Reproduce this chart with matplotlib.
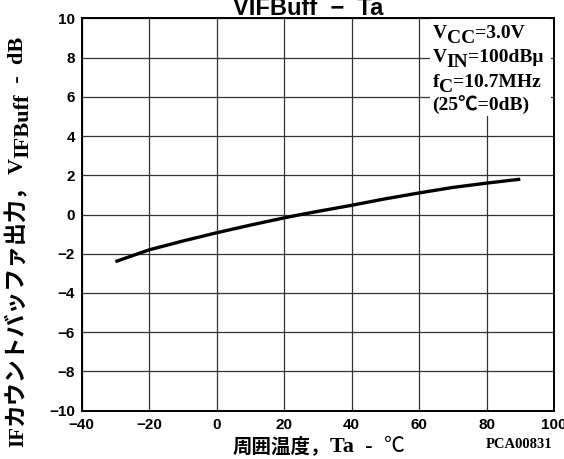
import matplotlib
matplotlib.use('Agg')
import matplotlib.pyplot as plt
from matplotlib.patches import Rectangle

# data
ta = [-30, -20, -10, 0, 10, 20, 25, 30, 40, 50, 60, 70, 80, 90]
vout = [-2.4, -1.8, -1.35, -0.93, -0.54, -0.17, 0.0, 0.16, 0.47, 0.8, 1.1, 1.38, 1.6, 1.8]

xticks = [-40, -20, 0, 20, 40, 60, 80, 100]
yticks = [-10, -8, -6, -4, -2, 0, 2, 4, 6, 8, 10]

# condition box: each line is a list of (text, is_subscript)
cond_lines = [
    [('V', 0), ('CC', 1), ('=3.0V', 0)],
    [('V', 0), ('IN', 1), ('=100dBμ', 0)],
    [('f', 0), ('C', 1), ('=10.7MHz', 0)],
    [('(25℃=0dB)', 0)],
]
cond_y = [9.0, 7.75, 6.5, 5.3]

serif = ['Liberation Serif', 'Noto Sans CJK JP']
cjk = ['Noto Sans CJK JP', 'Liberation Serif']
sans = ['Liberation Sans', 'DejaVu Sans']

fig = plt.figure(figsize=(5.64, 4.59), dpi=100)
ax = fig.add_axes([0.1449, 0.1052, 0.9823 - 0.1449, 0.9601 - 0.1052])

ax.plot(ta, vout, color='black', linewidth=2.4, solid_capstyle='butt', zorder=3)

ax.set_xlim(-40, 100)
ax.set_ylim(-10, 10)
ax.set_xticks(xticks)
ax.set_yticks(yticks)
ax.grid(True, color='#333333', linewidth=0.9)
ax.tick_params(length=0, pad=5)
for lab in ax.get_xticklabels() + ax.get_yticklabels():
    lab.set_fontfamily(sans)
    lab.set_fontweight('bold')
    lab.set_fontsize(11)
for s in ax.spines.values():
    s.set_linewidth(1.4)
    s.set_zorder(5)

# white box behind the conditions
ax.add_patch(Rectangle((63.2, 5.0), 35.9, 5.0, facecolor='white', edgecolor='none', zorder=2.5))
for parts, y in zip(cond_lines, cond_y):
    prev = None
    for txt, sub in parts:
        off = -3.6 if sub else 0
        if prev is None:
            prev = ax.annotate(txt, xy=(64.0, y), xycoords='data', xytext=(0, off),
                               textcoords='offset points', fontsize=14, fontfamily=serif,
                               fontweight='bold', va='baseline', ha='left', zorder=4)
        else:
            prev = ax.annotate(txt, xy=(1, y), xycoords=(prev, 'data'), xytext=(0, off),
                               textcoords='offset points', fontsize=14, fontfamily=serif,
                               fontweight='bold', va='baseline', ha='left', zorder=4)

# title (cut at top edge like the source)
fig.text(0.547, 1 - 15 / 459, 'VIFBuff  −  Ta', fontsize=17, fontfamily=sans,
         fontweight='bold', ha='center', va='baseline')

# x label: CJK part, then latin part, then degree sign
xl1 = fig.text(233 / 564, 1 - 452 / 459, '周囲温度，', fontsize=14, fontfamily=cjk,
               fontweight='bold', ha='left', va='baseline')
xl2 = ax.annotate('Ta  -  ', xy=(1, 1 - 452 / 459), xycoords=(xl1, 'figure fraction'),
                  fontsize=16, fontfamily=serif, fontweight='bold', ha='left', va='baseline',
                  annotation_clip=False)
ax.annotate('℃', xy=(1, 1 - 452 / 459), xycoords=(xl2, 'figure fraction'),
            fontsize=15, fontfamily=cjk, ha='left', va='baseline', annotation_clip=False)

fig.text(0.921, 1 - 448 / 459, 'PCA00831', fontsize=10.5, fontfamily=serif,
         fontweight='bold', ha='center', va='baseline')

# y label, rotated, built from pieces so the subscript stays full size
ylab_parts = [('IF', 0, serif, 15), ('カウントバッファ出力，', 0, cjk, 16.5),
              ('V', 0, serif, 16), ('IFBuff', 1, serif, 16), ('  -  dB', 0, serif, 16)]
xb = 23 / 564
prev = None
for txt, sub, fam, size in ylab_parts:
    off = 3.6 if sub else 0
    if prev is None:
        prev = ax.annotate(txt, xy=(xb, 1 - 447 / 459), xycoords='figure fraction',
                           xytext=(off, 0), textcoords='offset points', fontsize=size,
                           fontfamily=fam, fontweight='bold', rotation=90,
                           rotation_mode='anchor', ha='left', va='baseline',
                           annotation_clip=False)
    else:
        prev = ax.annotate(txt, xy=(xb, 1), xycoords=('figure fraction', prev),
                           xytext=(off, 0), textcoords='offset points', fontsize=size,
                           fontfamily=fam, fontweight='bold', rotation=90,
                           rotation_mode='anchor', ha='left', va='baseline',
                           annotation_clip=False)

plt.savefig('out.png', dpi=100)
